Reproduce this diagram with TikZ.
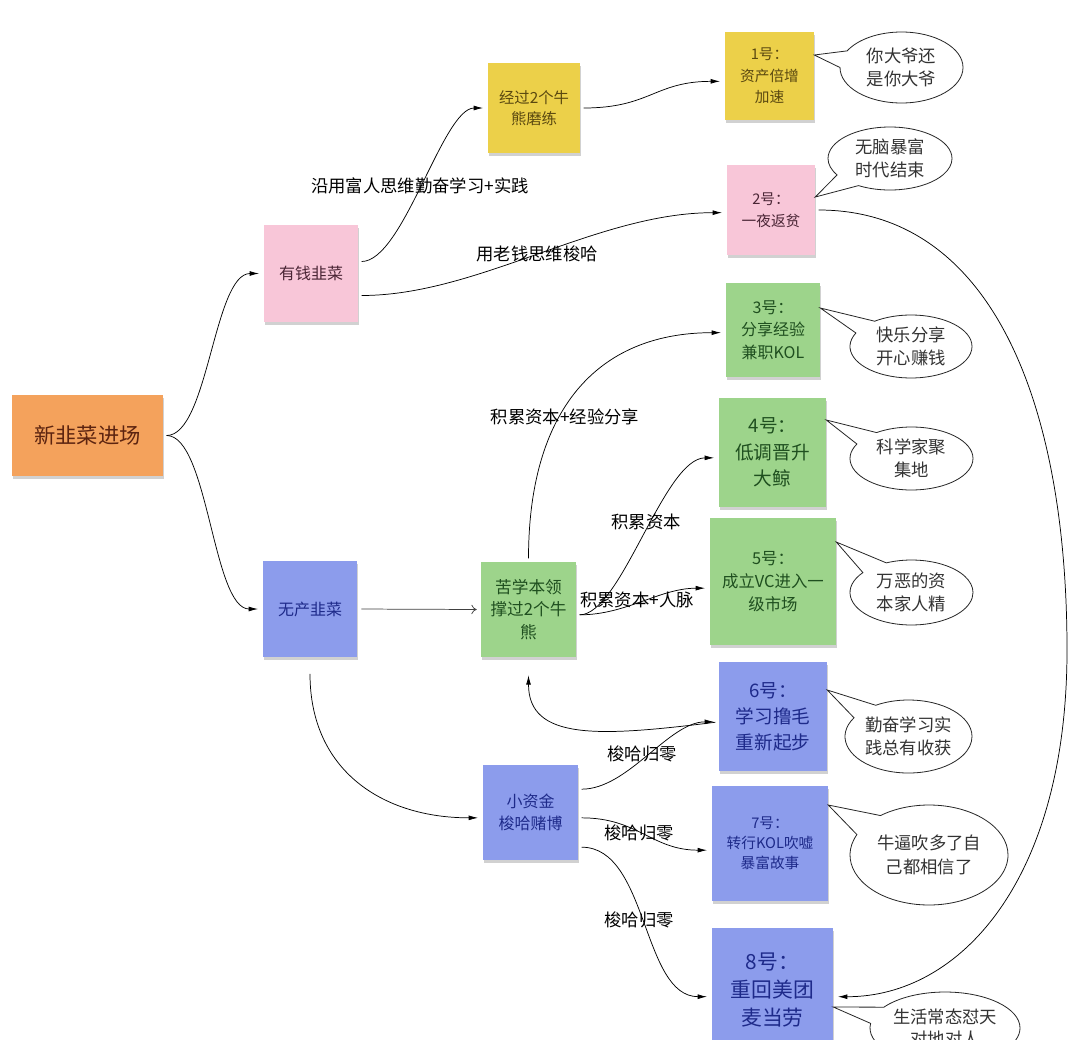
\documentclass[tikz,border=0pt]{standalone}
\usepackage{fontspec}
\setmainfont{Noto Sans CJK SC}
\usetikzlibrary{arrows.meta,shapes.callouts,shapes.geometric,shadows}
\definecolor{cOrange}{HTML}{F4A25C}
\definecolor{cPink}{HTML}{F8C6D8}
\definecolor{cYellow}{HTML}{ECD049}
\definecolor{cGreen}{HTML}{9DD48B}
\definecolor{cBlue}{HTML}{8C9CEC}
\definecolor{tOrange}{HTML}{5C2410}
\definecolor{tPink}{HTML}{4A2535}
\definecolor{tYellow}{HTML}{5A4810}
\definecolor{tGreen}{HTML}{1F4F1F}
\definecolor{tBlue}{HTML}{1E2A8A}
\definecolor{tGray}{HTML}{333333}
\begin{document}
\begin{tikzpicture}[x=0.75pt,y=-0.75pt,
  sz/.style 2 args={minimum width=#1*0.75pt, minimum height=#2*0.75pt},
  fs/.style 2 args={font=\fontsize{#1}{#2}\selectfont},
  note/.style={rectangle, inner sep=1pt, align=center, draw=none,
    drop shadow={shadow xshift=0.5pt, shadow yshift=-2pt, fill=black, opacity=0.18}},
  orangenote/.style={note, fill=cOrange, text=tOrange},
  pinknote/.style={note, fill=cPink, text=tPink},
  yellownote/.style={note, fill=cYellow, text=tYellow},
  greennote/.style={note, fill=cGreen, text=tGreen},
  bluenote/.style={note, fill=cBlue, text=tBlue},
  conn/.style={draw=black, line width=0.55pt, -{Latex[length=7pt,width=3.6pt]}, shorten >=3.5pt, shorten <=2.5pt},
  openconn/.style={draw=black!75, line width=0.55pt, -{To[length=4pt,width=7pt]}, shorten >=3pt, shorten <=3pt},
  lab/.style={inner sep=1pt, text=black, fs={13}{16}},
  bub/.style={ellipse callout, draw=black!85, fill=white, line width=0.6pt, align=center,
    inner sep=0pt, callout pointer arc=28, text=tGray, fs={13}{17.5}}
]
\useasboundingbox (0,0) rectangle (1087,1039);
\clip (0,0) rectangle (1087,1039);
\fill[white] (0,0) rectangle (1087,1039);

% notes
\node[orangenote, sz={151}{81}, fs={16}{20}] (root) at (87.5,435.5) {新韭菜进场};
\node[pinknote, sz={94}{97}, fs={12}{16}] (rich) at (311,273.5) {有钱韭菜};
\node[bluenote, sz={94}{96}, fs={12}{16}] (poor) at (310,609) {无产韭菜};
\node[yellownote, sz={92}{90}, fs={11.5}{16}] (exp) at (534,108) {经过2个牛\\熊磨练};
\node[greennote, sz={95}{95}, fs={12.5}{17}] (study) at (528.5,609.5) {苦学本领\\撑过2个牛\\熊};
\node[bluenote, sz={95}{95}, fs={12}{16.5}] (small) at (530.5,812.5) {小资金\\梭哈赌博};

\node[yellownote, sz={89}{88}, fs={11}{16}] (n1) at (769.5,76) {1号：\\资产倍增\\加速};
\node[pinknote, sz={88}{90}, fs={11}{16.5}] (n2) at (771,210) {2号：\\一夜返贫};
\node[greennote, sz={94}{94}, fs={12}{17}] (n3) at (773,330) {3号：\\分享经验\\兼职KOL};
\node[greennote, sz={107}{109}, fs={14}{20}] (n4) at (772.5,452.5) {4号：\\低调晋升\\大鲸};
\node[greennote, sz={126}{127}, fs={12.3}{17}] (n5) at (773,581.5) {5号：\\成立VC进入一\\级市场};
\node[bluenote, sz={108}{109}, fs={14}{19.5}] (n6) at (773,716.5) {6号：\\学习撸毛\\重新起步};
\node[bluenote, sz={116}{115}, fs={11}{15}] (n7) at (770,843.5) {7号：\\转行KOL吹嘘\\暴富故事};
\node[bluenote, sz={121}{124}, fs={15.6}{21}] (n8) at (772.5,990) {8号：\\重回美团\\麦当劳};

% speech bubbles
\node[bub, sz={123}{71}, callout absolute pointer={(n1.east |- 0,55)}] (b1) at (901.5,67.5) {你大爷还\\是你大爷};
\node[bub, sz={124}{63}, callout absolute pointer={(n2.east |- 0,197)}] (b2) at (890,158.5) {无脑暴富\\时代结束};
\node[bub, sz={122}{63}, callout absolute pointer={(n3.east |- 0,308)}] (b3) at (911,346.5) {快乐分享\\开心赚钱};
\node[bub, sz={123}{63}, callout absolute pointer={(n4.east |- 0,420)}] (b4) at (911.5,458.5) {科学家聚\\集地};
\node[bub, sz={123}{65}, callout absolute pointer={(n5.east |- 0,542)}] (b5) at (911.5,592.5) {万恶的资\\本家人精};
\node[bub, sz={127}{73}, callout absolute pointer={(n6.east |- 0,690)}] (b6) at (908.5,736.5) {勤奋学习实\\践总有收获};
\node[bub, sz={158}{100}, callout absolute pointer={(n7.east |- 0,805)}] (b7) at (929,855) {牛逼吹多了自\\己都相信了};
\node[bub, sz={150}{72}, fs={13}{16}, callout absolute pointer={(n8.east |- 0,1007)}] (b8) at (945,1028) {生活常态怼天\\对地对人};

% connectors
\draw[conn] (root.east) .. controls +(45,0) and +(-50,0) .. (rich.west);
\draw[conn] (root.east) .. controls +(45,0) and +(-50,0) .. (poor.west);
\draw[conn] ([yshift=9pt]rich.east) .. controls +(45,0) and +(-45,0) .. (exp.west);
\draw[conn] ([yshift=-16.5pt]rich.east) .. controls +(120,0) and +(-130,0) .. ([yshift=-2pt]n2.west);
\draw[conn] (exp.east) .. controls +(70,0) and +(-70,0) .. ([yshift=-4pt]n1.west);
\draw[conn] (n2.east) .. controls (990,210) and (1067,400) .. (1067,650)
  .. controls (1067,880) and (960,997) .. ([yshift=-5pt]n8.east);
\draw[conn] (study.north) .. controls +(0,-150) and +(-130,0) .. ([yshift=-2pt]n3.west);
\draw[conn] ([yshift=-4pt]study.east) .. controls +(45,0) and +(-55,0) .. ([yshift=-4pt]n4.west);
\draw[conn] ([yshift=-4pt]study.east) .. controls +(50,0) and +(-50,0) .. ([yshift=-5pt]n5.west);
\draw[openconn] (poor.east) -- (study.west);
\draw[conn] ([yshift=-10pt]poor.south) .. controls +(0,100) and +(-100,0) .. ([yshift=-4pt]small.west);
\draw[conn] ([yshift=17.5pt]small.east) .. controls +(50,0) and +(-50,0) .. ([yshift=-4pt]n6.west);
\draw[conn] ([yshift=-4pt]n6.west) .. controls +(-120,15) and +(0,70) .. ([yshift=-10pt]study.south);
\draw[conn] ([yshift=-4pt]small.east) .. controls +(60,0) and +(-60,0) .. ([yshift=-5pt]n7.west);
\draw[conn] ([yshift=-26pt]small.east) .. controls +(70,0) and +(-70,0) .. ([yshift=-5pt]n8.west);

% connector labels
\node[lab] (l1) at (420,186) {沿用富人思维勤奋学习+实践};
\node[lab] (l2) at (537,254) {用老钱思维梭哈};
\node[lab] (l3) at (565,417) {积累资本+经验分享};
\node[lab] (l4) at (646,522) {积累资本};
\node[lab] (l5) at (637,600) {积累资本+人脉};
\node[lab] (l6) at (642,754) {梭哈归零};
\node[lab] (l7) at (639,833) {梭哈归零};
\node[lab] (l8) at (639,920) {梭哈归零};
\end{tikzpicture}
\end{document}
